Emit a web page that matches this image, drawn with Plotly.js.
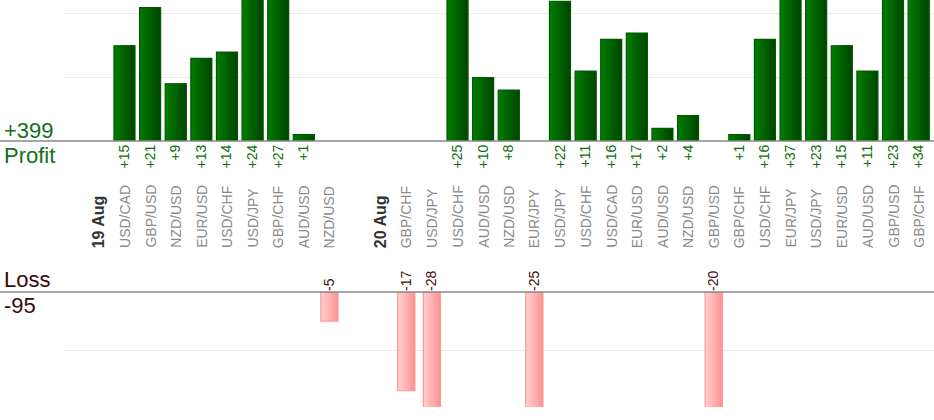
<!DOCTYPE html>
<html>
<head>
<meta charset="utf-8">
<script src="https://cdn.plot.ly/plotly-3.0.1.min.js"></script>
<style>
  html, body { margin: 0; padding: 0; background: #fff; }
  #chart { width: 934px; height: 420px; }
</style>
</head>
<body>
<div id="chart"></div>
<script>
// ── Data ──────────────────────────────────────────────────────────────────────
// one slot per column; day headers and an empty spacer sit in the same row
const slots = [
  '19 Aug', 'USD/CAD', 'GBP/USD', 'NZD/USD', 'EUR/USD', 'USD/CHF', 'USD/JPY', 'GBP/CHF',
  'AUD/USD', 'NZD/USD', '',
  '20 Aug', 'GBP/CHF', 'USD/JPY', 'USD/CHF', 'AUD/USD', 'NZD/USD', 'EUR/JPY', 'USD/JPY',
  'USD/CHF', 'USD/CAD', 'EUR/USD', 'AUD/USD', 'NZD/USD', 'GBP/USD', 'GBP/CHF', 'USD/CHF',
  'EUR/JPY', 'USD/JPY', 'EUR/USD', 'AUD/USD', 'GBP/USD', 'GBP/CHF'
];
const results = [
  null, 15, 21, 9, 13, 14, 24, 27,
  1, -5, null,
  null, -17, -28, 25, 10, 8, -25, 22,
  11, 16, 17, 2, 4, -20, 1, 16,
  37, 23, 15, 11, 23, 34
];
const dayLabels = ['19 Aug', '20 Aug'];

// ── Derived series ────────────────────────────────────────────────────────────
const xs = slots.map((_, i) => i);
const profit = results.map(v => (v !== null && v > 0) ? v : null);
const loss   = results.map(v => (v !== null && v < 0) ? v : null);
const profitTotal = profit.reduce((s, v) => s + (v || 0), 0);
const lossTotal   = loss.reduce((s, v) => s + (v || 0), 0);

// ── Geometry / style ──────────────────────────────────────────────────────────
const W = 934, H = 420;
const PROFIT_W = 0.82;
const LOSS_W = 0.67;
const SLICES = 7;
const FONT = 'Liberation Sans, Arial, sans-serif';
const py = px => 1 - px / H;   // pixel row -> paper y

function mix(a, b, t) {
  const c = a.map((v, i) => Math.round(v + (b[i] - v) * t));
  return 'rgb(' + c.join(',') + ')';
}

// horizontal gradient faked with overlapping slices + an outline trace on top
function gradientBars(ys, bw, from, to, edge, xa, ya) {
  const out = [];
  const sw = bw / SLICES;
  for (let k = 0; k < SLICES; k++) {
    const left = -bw / 2 + k * sw;
    out.push({
      type: 'bar', x: xs, y: ys, xaxis: xa, yaxis: ya,
      width: bw / 2 - left, offset: left,   // runs to the right edge, next slice covers it
      marker: { color: mix(from, to, k / (SLICES - 1)), line: { width: 0 } },
      hoverinfo: 'skip', showlegend: false,
    });
  }
  out.push({
    type: 'bar', x: xs, y: ys, xaxis: xa, yaxis: ya,
    width: bw, offset: -bw / 2,
    marker: { color: 'rgba(0,0,0,0)', line: { color: edge, width: 1.2 } },
    showlegend: false,
  });
  return out;
}

const traces = [].concat(
  gradientBars(profit, PROFIT_W, [0, 122, 0], [0, 72, 0], '#005a00', 'x', 'y'),
  gradientBars(loss, LOSS_W, [255, 204, 204], [255, 150, 150], '#ff9898', 'x2', 'y2')
);

const xRange = [-1.40, 32.6];
const xDomain = [63 / W, 1];

const profitText = profit.map(v => v === null ? '' : '+' + v);
const lossText   = loss.map(v => v === null ? '' : String(v));

// category labels, bottom aligned in the middle band
const catAnn = slots.map((s, i) => {
  const isDay = dayLabels.includes(s);
  return {
    x: i, xref: 'x', y: py(250), yref: 'paper',
    xanchor: 'center', yanchor: 'bottom',
    text: isDay ? '<b>' + s + '</b>' : s,
    textangle: -90, showarrow: false,
    font: { family: FONT, size: isDay ? 16 : 14, color: isDay ? '#333' : '#8a8a8a' },
  };
}).filter(a => a.text !== '');

const sideAnn = [
  { text: '+' + profitTotal, y: py(130), color: '#12701a' },
  { text: 'Profit',          y: py(155), color: '#12701a' },
  { text: 'Loss',            y: py(279), color: '#3a0808' },
  { text: String(lossTotal), y: py(305), color: '#3a0808' },
].map(a => ({
  x: 2 / W, xref: 'paper', y: a.y, yref: 'paper',
  xanchor: 'left', yanchor: 'middle', showarrow: false,
  text: a.text, font: { family: FONT, size: 22, color: a.color },
}));

const layout = {
  width: W, height: H,
  margin: { l: 0, r: 0, t: 0, b: 0 },
  paper_bgcolor: '#fff', plot_bgcolor: '#fff',
  barmode: 'overlay',
  showlegend: false,
  font: { family: FONT },
  xaxis: {
    domain: xDomain, range: xRange, anchor: 'y',
    showgrid: false, zeroline: false, showline: false, ticks: '',
    tickmode: 'array', tickvals: xs, ticktext: profitText,
    tickangle: -90, ticklabelstandoff: 0,
    tickfont: { family: FONT, size: 14, color: '#0a6e0a' },
  },
  yaxis: {
    domain: [py(141), 1], range: [0, 22.2],
    showgrid: true, gridcolor: '#ececec', dtick: 10,
    zeroline: false, showticklabels: false, ticks: '',
  },
  xaxis2: {
    domain: xDomain, range: xRange, anchor: 'y2', side: 'top',
    showgrid: false, zeroline: false, showline: false, ticks: '',
    tickmode: 'array', tickvals: xs, ticktext: lossText,
    tickangle: -90, ticklabelstandoff: 0,
    tickfont: { family: FONT, size: 14, color: '#400c0c' },
  },
  yaxis2: {
    domain: [py(407), py(292)], range: [-19.8, 0],
    showgrid: true, gridcolor: '#ececec', dtick: 10,
    zeroline: false, showticklabels: false, ticks: '',
  },
  shapes: [
    { type: 'line', xref: 'paper', yref: 'paper', x0: 0, x1: 1, y0: py(141), y1: py(141),
      line: { color: '#888', width: 1.3 } },
    { type: 'line', xref: 'paper', yref: 'paper', x0: 0, x1: 1, y0: py(292), y1: py(292),
      line: { color: '#888', width: 1.3 } },
  ],
  annotations: catAnn.concat(sideAnn),
};

Plotly.newPlot('chart', traces, layout, { displayModeBar: false, staticPlot: true });
</script>
</body>
</html>
